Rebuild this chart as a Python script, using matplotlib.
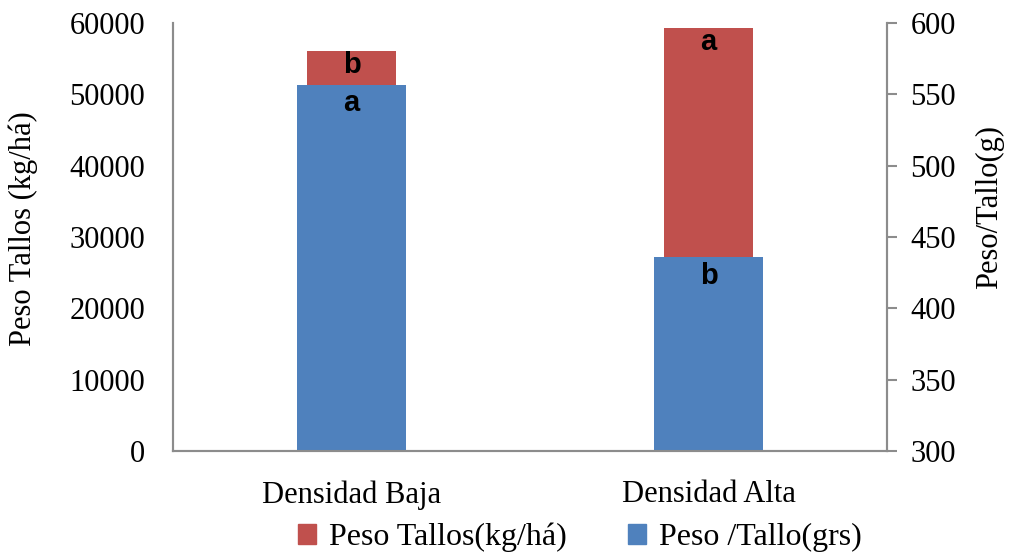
import matplotlib
matplotlib.use("Agg")
import matplotlib.pyplot as plt
from matplotlib.patches import Patch

categories = ["Densidad Baja", "Densidad Alta"]
peso_tallos = [56100, 59300]      # kg/há, left axis
peso_tallo = [556.5, 435.8]       # g, right axis
letras_tallos = ["b", "a"]
letras_tallo = ["a", "b"]

red = "#C0504D"
blue = "#4F81BD"
grey = "#8C8C8C"
serif = "Liberation Serif"
fs = 22

fig = plt.figure(figsize=(10.1, 5.55), dpi=100)
ax1 = fig.add_axes([0.1713, 0.1875, 0.7069, 0.7711])
ax2 = ax1.twinx()

x = list(range(len(categories)))
ax1.bar(x, peso_tallos, width=0.25, color=red, zorder=2)
ax2.bar(x, [v - 300 for v in peso_tallo], bottom=300, width=0.305, color=blue, zorder=2)

ax1.set_xlim(-0.5, 1.5)
ax1.set_ylim(0, 60000)
ax2.set_ylim(300, 600)
ax1.set_yticks(range(0, 60001, 10000))
ax2.set_yticks(range(300, 601, 50))
ax1.set_xticks(x)
ax1.set_xticklabels(categories, fontfamily=serif, fontsize=fs)

for ax in (ax1, ax2):
    for s in ax.spines.values():
        s.set_color(grey)
        s.set_linewidth(1.5)
    ax.spines["top"].set_visible(False)

ax1.tick_params(axis="y", length=0, pad=20, labelsize=fs)
ax1.tick_params(axis="x", length=0, pad=21, labelsize=fs)
ax2.tick_params(axis="y", length=7, width=1.5, color=grey, pad=10, labelsize=fs)
for lab in ax1.get_yticklabels() + ax2.get_yticklabels():
    lab.set_fontfamily(serif)

ax1.set_ylabel("Peso Tallos (kg/há)", fontfamily=serif, fontsize=fs)
ax1.yaxis.set_label_coords(-0.189, 0.52)
ax2.set_ylabel("Peso/Tallo(g)", fontfamily=serif, fontsize=fs)
ax2.yaxis.set_label_coords(1.123, 0.57)

for xi, v, t in zip(x, peso_tallos, letras_tallos):
    ax1.annotate(t, (xi, v), xytext=(0, -16), textcoords="offset points",
                 ha="center", va="baseline", fontsize=21, fontweight="bold",
                 fontfamily="Liberation Sans", zorder=5)
for xi, v, t in zip(x, peso_tallo, letras_tallo):
    ax2.annotate(t, (xi, v), xytext=(0, -19), textcoords="offset points",
                 ha="center", va="baseline", fontsize=21, fontweight="bold",
                 fontfamily="Liberation Sans", zorder=5)

handles = [Patch(color=red, label="Peso Tallos(kg/há)"),
           Patch(color=blue, label="Peso /Tallo(grs)")]
fig.legend(handles=handles, loc="center", bbox_to_anchor=(0.574, 0.032), ncol=2,
           frameon=False, prop={"family": serif, "size": 23},
           handlelength=0.58, handleheight=0.58, handletextpad=0.4, columnspacing=1.9,
           borderpad=0, borderaxespad=0)

fig.savefig("out.png", dpi=100)
